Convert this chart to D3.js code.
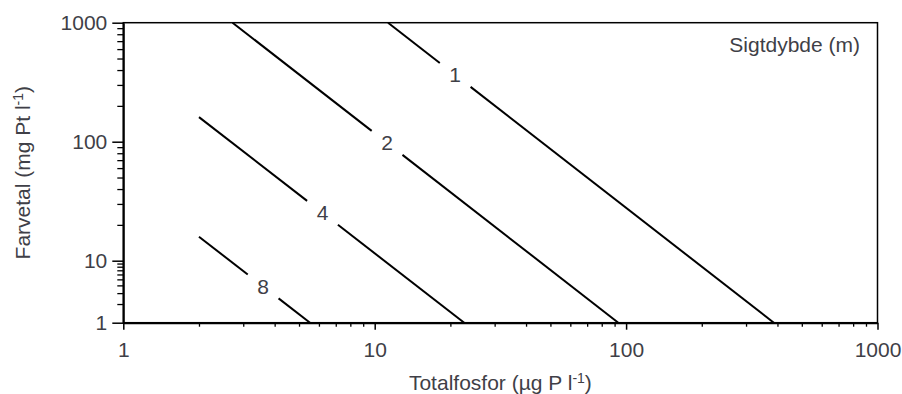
<!DOCTYPE html>
<html>
<head>
<meta charset="utf-8">
<script src="https://cdn.jsdelivr.net/npm/d3@7"></script>
<style>
  html, body { margin: 0; padding: 0; background: #fff; }
  svg { display: block; }
  text { font-family: "Liberation Sans", Arial, sans-serif; fill: #3f3f47; }
</style>
</head>
<body>
<svg id="chart" width="902" height="394"></svg>
<script>
// Axis ticks (log scales)
const xTicks = [1, 10, 100, 1000];
const yTicks = [1, 10, 100, 1000];

// Secchi depth isolines (m): start/end points in data units
const depths = [1, 2, 4, 8];
const startX = [11.3, 2.72, 2.0, 2.0];
const startY = [1000, 1000, 161, 15.9];
const endX = [387, 93.1, 22.7, 5.53];
const endY = [1, 1, 1, 1];
// Total phosphorus value where each depth label sits on its line
const labelX = [20.9, 11.2, 6.2, 3.6];

const legendTitle = "Sigtdybde (m)";

const svg = d3.select("#chart");
const plotLeft = 123.3, plotRight = 877.5, plotTop = 22.7, plotBottom = 322.7;
const fontSize = 21;

const x = d3.scaleLog().domain([1, 1000]).range([plotLeft, plotRight]);
// bottom decade is compressed on this axis
const y = d3.scaleLog().domain([1, 10, 100, 1000]).range([plotBottom, 260.7, 141.7, plotTop]);

function minorTicks(extent) {
  const out = [];
  for (let d = extent[0]; d < extent[1]; d *= 10)
    for (let k = 2; k <= 9; k++) out.push(d * k);
  return out;
}

// frame
svg.append("rect")
  .attr("x", plotLeft).attr("y", plotTop)
  .attr("width", plotRight - plotLeft).attr("height", plotBottom - plotTop)
  .attr("fill", "none").attr("stroke", "#000").attr("stroke-width", 1.5);

// x minor ticks
svg.append("g")
  .attr("transform", `translate(0,${plotBottom})`)
  .call(d3.axisBottom(x).tickValues(minorTicks([1, 1000])).tickSize(4).tickFormat(""))
  .call(g => g.select(".domain").remove())
  .call(g => g.selectAll("line").attr("stroke", "#000").attr("stroke-width", 1.3));

// x major ticks
const gx = svg.append("g")
  .attr("transform", `translate(0,${plotBottom})`)
  .call(d3.axisBottom(x).tickValues(xTicks).tickSize(7).tickSizeOuter(0).tickPadding(12).tickFormat(d3.format("d")));
gx.select(".domain").attr("stroke", "#000").attr("stroke-width", 2);
gx.selectAll("line").attr("stroke", "#000").attr("stroke-width", 1.5);
gx.selectAll("text").attr("font-size", fontSize).attr("fill", "#3f3f47")
  .attr("font-family", "Liberation Sans, Arial, sans-serif");

// y minor ticks
svg.append("g")
  .attr("transform", `translate(${plotLeft},0)`)
  .call(d3.axisLeft(y).tickValues(minorTicks([1, 1000])).tickSize(6).tickFormat(""))
  .call(g => g.select(".domain").remove())
  .call(g => g.selectAll("line").attr("stroke", "#000").attr("stroke-width", 1.3));

// y major ticks
const gy = svg.append("g")
  .attr("transform", `translate(${plotLeft},0)`)
  .call(d3.axisLeft(y).tickValues(yTicks).tickSize(11).tickSizeOuter(0).tickPadding(5).tickFormat(d3.format("d")));
gy.select(".domain").attr("stroke", "#000").attr("stroke-width", 2);
gy.selectAll("line").attr("stroke", "#000").attr("stroke-width", 1.5);
gy.selectAll("text").attr("font-size", fontSize).attr("fill", "#3f3f47")
  .attr("font-family", "Liberation Sans, Arial, sans-serif");

// isolines with a gap for each depth label
const gLines = svg.append("g");
const halfGap = 19.5;
depths.forEach((d, i) => {
  const p0 = [x(startX[i]), y(startY[i])];
  const p1 = [x(endX[i]), y(endY[i])];
  const dx = p1[0] - p0[0], dy = p1[1] - p0[1];
  const len = Math.hypot(dx, dy);
  const u = [dx / len, dy / len];
  const t = (x(labelX[i]) - p0[0]) / dx;
  const c = [p0[0] + t * dx, p0[1] + t * dy];
  const segs = [
    [p0, [c[0] - u[0] * halfGap, c[1] - u[1] * halfGap]],
    [[c[0] + u[0] * halfGap, c[1] + u[1] * halfGap], p1]
  ];
  segs.forEach(s => {
    gLines.append("path")
      .attr("d", d3.line()(s))
      .attr("fill", "none").attr("stroke", "#000").attr("stroke-width", 2);
  });
  gLines.append("text")
    .attr("x", c[0]).attr("y", c[1])
    .attr("text-anchor", "middle")
    .attr("dominant-baseline", "central")
    .attr("font-size", fontSize)
    .text(d);
});

// legend title
svg.append("text")
  .attr("x", 860).attr("y", 52)
  .attr("text-anchor", "end")
  .attr("font-size", fontSize)
  .text(legendTitle);

// axis titles with superscript units
function unitTitle(sel, main) {
  sel.append("tspan").text(main);
  sel.append("tspan").attr("font-size", 14).attr("dy", -7).text("-1");
  sel.append("tspan").attr("font-size", fontSize).attr("dy", 7).text(")");
}

svg.append("text")
  .attr("x", (plotLeft + plotRight) / 2).attr("y", 390)
  .attr("text-anchor", "middle")
  .attr("font-size", fontSize)
  .call(unitTitle, "Totalfosfor (µg P l");

svg.append("text")
  .attr("transform", `translate(30,${(plotTop + plotBottom) / 2}) rotate(-90)`)
  .attr("text-anchor", "middle")
  .attr("font-size", fontSize)
  .call(unitTitle, "Farvetal (mg Pt l");
</script>
</body>
</html>
